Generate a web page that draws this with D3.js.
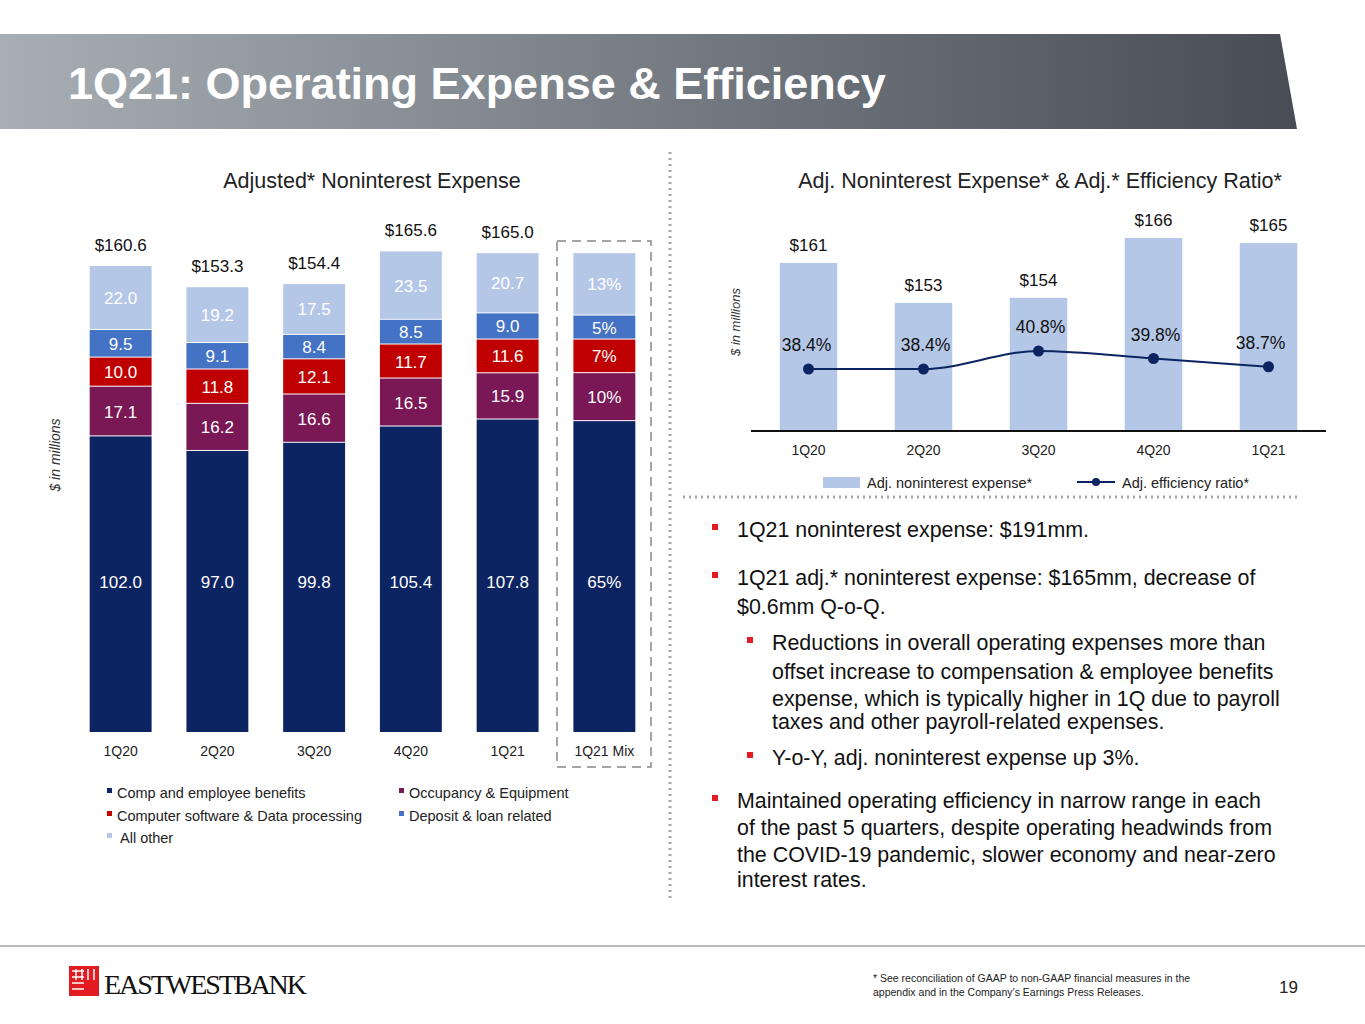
<!DOCTYPE html>
<html><head><meta charset="utf-8">
<script src="https://cdn.jsdelivr.net/npm/d3@7"></script>
<style>body{margin:0;background:#fff;font-family:Arial,"Liberation Sans",sans-serif}</style>
</head><body><svg id="c" width="1365" height="1024"></svg>
<script>
const quarters=["1Q20","2Q20","3Q20","4Q20","1Q21"];
const leftCats=["1Q20","2Q20","3Q20","4Q20","1Q21","1Q21 Mix"];
const seriesNames=["Comp and employee benefits","Occupancy & Equipment","Computer software & Data processing","Deposit & loan related","All other"];
const comp=[102.0,97.0,99.8,105.4,107.8];
const occ=[17.1,16.2,16.6,16.5,15.9];
const soft=[10.0,11.8,12.1,11.7,11.6];
const dep=[9.5,9.1,8.4,8.5,9.0];
const other=[22.0,19.2,17.5,23.5,20.7];
const totals=["$160.6","$153.3","$154.4","$165.6","$165.0"];
const mix=[65,10,7,5,13];
const adjExp=[161,153,154,166,165];
const effRatio=[38.4,38.4,40.8,39.8,38.7];
const colors=["#0c2461","#7a1755","#c00000","#4472c4","#b4c7e7"];

const svg=d3.select("#c");
const g0=svg.append("defs").append("linearGradient").attr("id","bg");
g0.append("stop").attr("offset","0").attr("stop-color","#a7aeb4");
g0.append("stop").attr("offset","1").attr("stop-color","#474c55");
svg.append("path").attr("d","M0,34H1280L1297,129H0Z").attr("fill","url(#bg)");
svg.append("text").attr("x",68).attr("y",99).attr("fill","#fff").attr("font-size",45).attr("font-weight","bold").text("1Q21: Operating Expense & Efficiency");

svg.append("line").attr("x1",670).attr("x2",670).attr("y1",152).attr("y2",900).attr("stroke","#a6a6a6").attr("stroke-width",3).attr("stroke-dasharray","2,4");
svg.append("line").attr("x1",683).attr("x2",1297).attr("y1",497).attr("y2",497).attr("stroke","#a6a6a6").attr("stroke-width",3).attr("stroke-dasharray","2,4");
svg.append("line").attr("x1",0).attr("x2",1365).attr("y1",946).attr("y2",946).attr("stroke","#a6a6a6").attr("stroke-width",1.5);

svg.append("text").attr("x",372).attr("y",188).attr("text-anchor","middle").attr("font-size",21.5).attr("fill","#222").text("Adjusted* Noninterest Expense");
svg.append("text").attr("transform","translate(60,455) rotate(-90)").attr("text-anchor","middle").attr("font-size",14).attr("font-style","italic").attr("fill","#333").text("$ in millions");
const xL=d3.scaleBand().domain(leftCats).range([80,645]).paddingInner(0.36).paddingOuter(0.1);
const yL=d3.scaleLinear().domain([0,160.6]).range([733,266]);
const ser=[comp,occ,soft,dep,other];
leftCats.forEach((c,i)=>{
  let vals, labels;
  if(i<5){vals=ser.map(s=>s[i]);labels=vals.map(v=>v.toFixed(1));}
  else{vals=mix.map(m=>m/100*165.0);labels=mix.map(m=>m+"%");}
  let acc=0;
  vals.forEach((v,k)=>{
    const y0=yL(acc),y1=yL(acc+v);acc+=v;
    svg.append("rect").attr("x",xL(c)).attr("width",xL.bandwidth()).attr("y",y1).attr("height",y0-y1-1).attr("fill",colors[k]);
    const ly=(y1+y0)/2;
    svg.append("text").attr("x",xL(c)+xL.bandwidth()/2).attr("y",(k===0?582:ly)+6).attr("text-anchor","middle").attr("font-size",17).attr("fill","#fff").text(labels[k]);
  });
  if(i<5) svg.append("text").attr("x",xL(c)+xL.bandwidth()/2).attr("y",yL(acc)-15).attr("text-anchor","middle").attr("font-size",17).attr("fill","#111").text(totals[i]);
  svg.append("text").attr("x",xL(c)+xL.bandwidth()/2).attr("y",756).attr("text-anchor","middle").attr("font-size",14).attr("fill","#222").text(c);
});
svg.append("rect").attr("x",557).attr("y",241).attr("width",94).attr("height",526).attr("fill","none").attr("stroke","#888").attr("stroke-width",1.5).attr("stroke-dasharray","9,6");
const legPos=[[107,797],[399,797],[107,820],[399,820],[107,842]];
seriesNames.forEach((n,k)=>{
  const [x,y]=legPos[k];
  svg.append("rect").attr("x",x).attr("y",y-9).attr("width",5).attr("height",5).attr("fill",colors[k]);
  svg.append("text").attr("x",x+(k===4?13:10)).attr("y",y+1).attr("font-size",14.5).attr("fill","#222").text(n);
});

svg.append("text").attr("x",1040).attr("y",188).attr("text-anchor","middle").attr("font-size",21.5).attr("fill","#222").text("Adj. Noninterest Expense* & Adj.* Efficiency Ratio*");
svg.append("text").attr("transform","translate(740,322) rotate(-90)").attr("text-anchor","middle").attr("font-size",13).attr("font-style","italic").attr("fill","#333").text("$ in millions");
const xR=d3.scaleBand().domain(quarters).range([751,1326]).paddingInner(0.5).paddingOuter(0.25);
const yR=d3.scaleLinear().domain([127.5,166]).range([430,238]);
const yE=d3.scaleLinear().domain([38.4,40.8]).range([369,351]);
quarters.forEach((q,i)=>{
  svg.append("rect").attr("x",xR(q)).attr("width",xR.bandwidth()).attr("y",yR(adjExp[i])).attr("height",430-yR(adjExp[i])).attr("fill","#b4c7e7");
  svg.append("text").attr("x",xR(q)+xR.bandwidth()/2).attr("y",yR(adjExp[i])-12).attr("text-anchor","middle").attr("font-size",17).attr("fill","#111").text("$"+adjExp[i]);
  svg.append("text").attr("x",xR(q)+xR.bandwidth()/2).attr("y",455).attr("text-anchor","middle").attr("font-size",14).attr("fill","#222").text(q);
});
svg.append("line").attr("x1",751).attr("x2",1326).attr("y1",431).attr("y2",431).attr("stroke","#111").attr("stroke-width",2);
const pts=quarters.map((q,i)=>[xR(q)+xR.bandwidth()/2,yE(effRatio[i])]);
svg.append("path").attr("d",d3.line().curve(d3.curveMonotoneX)(pts)).attr("fill","none").attr("stroke","#0c2461").attr("stroke-width",2);
pts.forEach((p,i)=>{
  svg.append("circle").attr("cx",p[0]).attr("cy",p[1]).attr("r",5.5).attr("fill","#0c2461");
  svg.append("text").attr("x",p[0]+(i===4?-8:i===0?-2:2)).attr("y",p[1]-18).attr("text-anchor","middle").attr("font-size",17.5).attr("fill","#111").text(effRatio[i].toFixed(1)+"%");
});
svg.append("rect").attr("x",823).attr("y",477).attr("width",37).attr("height",11).attr("fill","#b4c7e7");
svg.append("text").attr("x",867).attr("y",488).attr("font-size",14.5).attr("fill","#222").text("Adj. noninterest expense*");
svg.append("line").attr("x1",1077).attr("x2",1115).attr("y1",482).attr("y2",482).attr("stroke","#0c2461").attr("stroke-width",2);
svg.append("circle").attr("cx",1096).attr("cy",482).attr("r",4).attr("fill","#0c2461");
svg.append("text").attr("x",1122).attr("y",488).attr("font-size",14.5).attr("fill","#222").text("Adj. efficiency ratio*");

const bullets=[
 [712,737,[["1Q21 noninterest expense: $191mm.",537]]],
 [712,737,[["1Q21 adj.* noninterest expense: $165mm, decrease of",585],["$0.6mm Q-o-Q.",614]]],
 [747,772,[["Reductions in overall operating expenses more than",650],["offset increase to compensation & employee benefits",679],["expense, which is typically higher in 1Q due to payroll",706],["taxes and other payroll-related expenses.",729]]],
 [747,772,[["Y-o-Y, adj. noninterest expense up 3%.",765]]],
 [712,737,[["Maintained operating efficiency in narrow range in each",808],["of the past 5 quarters, despite operating headwinds from",835],["the COVID-19 pandemic, slower economy and near-zero",862],["interest rates.",887]]]
];
bullets.forEach(([bx,tx,lines])=>{
  svg.append("rect").attr("x",bx).attr("y",lines[0][1]-13).attr("width",6).attr("height",6).attr("fill","#e31b23");
  lines.forEach(([t,y])=>svg.append("text").attr("x",tx).attr("y",y).attr("font-size",21.4).attr("fill","#111").text(t));
});

const lg=svg.append("g").attr("transform","translate(69,966)");
lg.append("rect").attr("width",30).attr("height",30).attr("fill","#e31b23");
[6,12,18,24].forEach(d=>{lg.append("line").attr("x1",3).attr("x2",15).attr("y1",d-1).attr("y2",d-1).attr("stroke","#fff").attr("stroke-width",1.5);
 lg.append("line").attr("x1",d+1).attr("x2",d+1).attr("y1",3).attr("y2",14).attr("stroke","#fff").attr("stroke-width",1.5);});
svg.append("text").attr("x",104).attr("y",994).attr("font-family","'Liberation Serif','DejaVu Serif',serif").attr("font-size",28).attr("fill","#111").attr("textLength",203).text("EASTWESTBANK");
svg.append("text").attr("x",873).attr("y",982).attr("font-size",10.5).attr("fill","#222").text("* See reconciliation of GAAP to non-GAAP financial measures in the");
svg.append("text").attr("x",873).attr("y",996).attr("font-size",10.5).attr("fill","#222").text("appendix and in the Company’s Earnings Press Releases.");
svg.append("text").attr("x",1279).attr("y",993).attr("font-size",17).attr("fill","#222").text("19");
</script></body></html>
